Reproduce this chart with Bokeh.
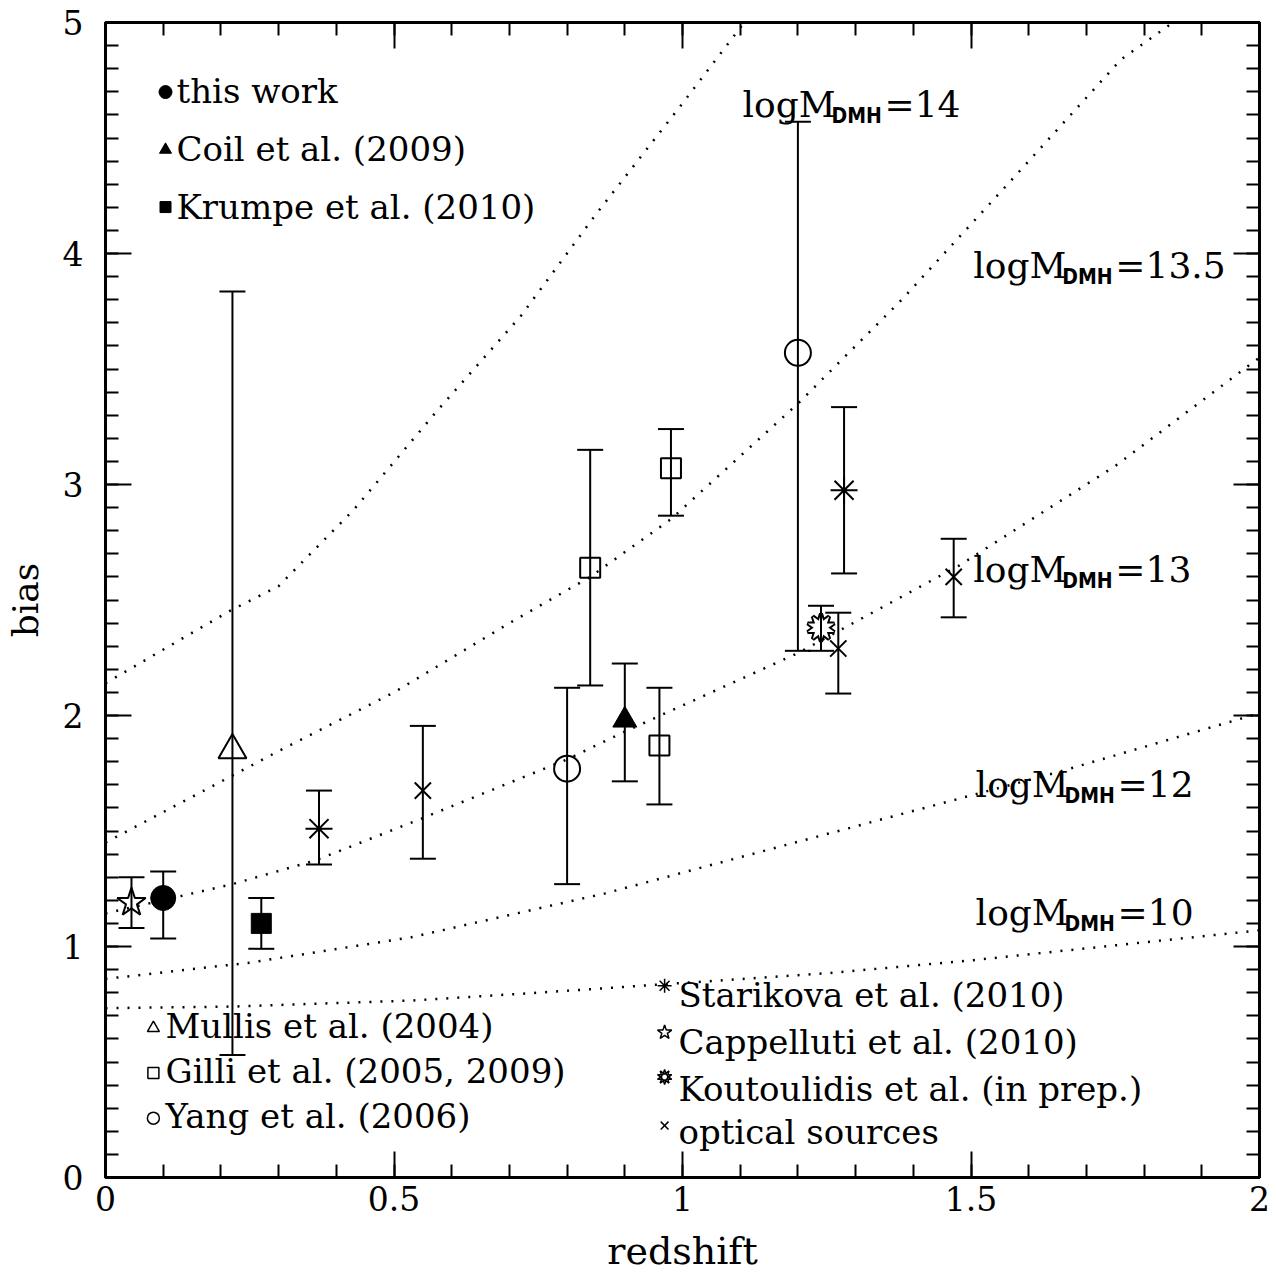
import math
from bokeh.plotting import figure
from bokeh.models import Range1d, FixedTicker, LinearAxis
from bokeh.core.properties import value
from bokeh.embed import file_html
from bokeh.resources import INLINE

FONT = "DejaVu Serif"
SERIF = value(FONT)

# ---- measurements: redshift, bias, lower / upper error ----
this_z, this_b, this_lo, this_hi = [0.10], [1.21], [1.035], [1.325]
coil_z, coil_b, coil_lo, coil_hi = [0.90], [1.98], [1.715], [2.225]
krumpe_z, krumpe_b, krumpe_lo, krumpe_hi = [0.27], [1.10], [0.99], [1.21]
mullis_z, mullis_b, mullis_lo, mullis_hi = [0.22], [1.85], [0.53], [3.835]
gilli_z = [0.84, 0.96, 0.98]
gilli_b = [2.64, 1.87, 3.07]
gilli_lo = [2.13, 1.615, 2.865]
gilli_hi = [3.15, 2.12, 3.24]
yang_z = [0.80, 1.20]
yang_b = [1.77, 3.57]
yang_lo = [1.27, 2.28]
yang_hi = [2.12, 4.57]
star_z = [0.37, 1.28]
star_b = [1.51, 2.975]
star_lo = [1.355, 2.615]
star_hi = [1.675, 3.335]
capp_z, capp_b, capp_lo, capp_hi = [0.045], [1.19], [1.08], [1.30]
kout_z, kout_b, kout_lo, kout_hi = [1.24], [2.38], [2.28], [2.475]
opt_z = [0.55, 1.27, 1.47]
opt_b = [1.675, 2.29, 2.60]
opt_lo = [1.38, 2.095, 2.425]
opt_hi = [1.955, 2.445, 2.765]

# ---- halo bias tracks for fixed dark-matter-halo mass ----
m14_z = [0.0, 0.217, 0.30, 0.43, 0.575, 0.72, 0.85, 1.0, 1.107]
m14_b = [2.14, 2.455, 2.56, 2.89, 3.32, 3.73, 4.17, 4.65, 5.0]
m135_z = [0.0, 0.22, 0.303, 0.5, 0.7, 0.84, 0.98, 1.2, 1.38, 1.56, 1.76, 1.85]
m135_b = [1.45, 1.74, 1.85, 2.10, 2.40, 2.60, 2.85, 3.35, 3.80, 4.29, 4.84, 5.0]
m13_z = [0.0, 0.22, 0.363, 0.534, 0.8, 0.9, 1.2, 1.48, 1.75, 2.0]
m13_b = [1.143, 1.27, 1.372, 1.54, 1.81, 1.93, 2.27, 2.65, 3.08, 3.55]
m12_z = [0.0, 0.25, 0.53, 0.866, 1.255, 1.644, 2.0]
m12_b = [0.86, 0.93, 1.04, 1.23, 1.49, 1.75, 2.01]
m10_z = [0.0, 0.22, 0.53, 0.75, 1.255, 1.5, 2.0]
m10_b = [0.733, 0.74, 0.766, 0.80, 0.885, 0.94, 1.07]

mass_labels = ["14", "13.5", "13", "12", "10"]
mass_label_z = [1.104, 1.504, 1.504, 1.508, 1.508]
mass_label_b = [4.645, 3.948, 2.630, 1.701, 1.147]

x_ticks = [0, 0.5, 1, 1.5, 2]
x_tick_labels = ["0", "0.5", "1", "1.5", "2"]
y_ticks = [0, 1, 2, 3, 4, 5]
y_tick_labels = ["0", "1", "2", "3", "4", "5"]

legend_top = ["this work", "Coil et al. (2009)", "Krumpe et al. (2010)"]
legend_left = ["Mullis et al. (2004)", "Gilli et al. (2005, 2009)", "Yang et al. (2006)"]
legend_right = ["Starikova et al. (2010)", "Cappelluti et al. (2010)",
                "Koutoulidis et al. (in prep.)", "optical sources"]

p = figure(width=1276, height=1275, output_backend="svg", toolbar_location=None,
           x_range=Range1d(0, 2), y_range=Range1d(0, 5),
           min_border_left=105, min_border_right=17, min_border_top=22, min_border_bottom=98,
           x_axis_label="redshift", y_axis_label="bias")
p.grid.visible = False
p.outline_line_color = "black"
p.outline_line_width = 3
p.background_fill_color = "white"
p.border_fill_color = "white"

x_minor = [round(0.1 * i, 2) for i in range(21)]
y_minor = [round(0.1 * i, 2) for i in range(51)]


def style_axis(ax, ticks, minor, labels, show_labels):
    ax.ticker = FixedTicker(ticks=ticks, minor_ticks=minor)
    ax.major_tick_in = 26
    ax.major_tick_out = 0
    ax.minor_tick_in = 13
    ax.minor_tick_out = 0
    ax.major_tick_line_width = 2
    ax.minor_tick_line_width = 2
    ax.major_tick_line_color = "black"
    ax.minor_tick_line_color = "black"
    ax.axis_line_width = 3
    ax.axis_line_color = "black"
    if show_labels:
        ax.major_label_overrides = {t: s for t, s in zip(ticks, labels)}
        ax.major_label_text_font = FONT
        ax.major_label_text_font_size = "33px"
        ax.major_label_text_color = "black"
        ax.axis_label_text_font = FONT
        ax.axis_label_text_font_size = "38px"
        ax.axis_label_text_font_style = "normal"
        ax.axis_label_text_color = "black"
    else:
        # mirrored axis: ticks only
        ax.major_label_text_font_size = "8px"
        ax.major_label_text_color = None
        ax.major_label_standoff = 0


style_axis(p.xaxis[0], x_ticks, x_minor, x_tick_labels, True)
style_axis(p.yaxis[0], y_ticks, y_minor, y_tick_labels, True)
p.xaxis[0].major_label_standoff = 8
p.xaxis[0].axis_label_standoff = 15
p.yaxis[0].major_label_standoff = 22
p.yaxis[0].axis_label_standoff = 14
p.yaxis[0].axis_label_text_font_size = "36px"

top_axis = LinearAxis()
style_axis(top_axis, x_ticks, x_minor, x_tick_labels, False)
p.add_layout(top_axis, "above")
right_axis = LinearAxis()
style_axis(right_axis, y_ticks, y_minor, y_tick_labels, False)
p.add_layout(right_axis, "right")

LW = 2

# Koutoulidis starburst: thick outline of two overlaid stars, then white interiors
for ang in (0, math.pi / 5):
    p.scatter(kout_z, kout_b, marker="star", size=28, angle=ang,
              fill_color=None, line_color="black", line_width=4)
for ang in (0, math.pi / 5):
    p.scatter(kout_z, kout_b, marker="star", size=28, angle=ang,
              fill_color="white", line_color=None)

# dotted halo-mass tracks
for zs, bs in [(m14_z, m14_b), (m135_z, m135_b), (m13_z, m13_b), (m12_z, m12_b), (m10_z, m10_b)]:
    p.line(zs, bs, line_color="black", line_width=2.5, line_dash="2 9")


def error_bars(z, lo, hi, cap=26):
    p.segment(x0=z, y0=lo, x1=z, y1=hi, line_color="black", line_width=LW)
    p.scatter(x=z + z, y=lo + hi, marker="dash", size=cap, line_color="black", line_width=LW)


for z, lo, hi in [(capp_z, capp_lo, capp_hi), (this_z, this_lo, this_hi),
                  (mullis_z, mullis_lo, mullis_hi), (krumpe_z, krumpe_lo, krumpe_hi),
                  (star_z, star_lo, star_hi), (opt_z, opt_lo, opt_hi),
                  (yang_z, yang_lo, yang_hi), (gilli_z, gilli_lo, gilli_hi),
                  (coil_z, coil_lo, coil_hi), (kout_z, kout_lo, kout_hi)]:
    error_bars(z, lo, hi)

# open symbols
p.scatter(capp_z, capp_b, marker="star", size=30, fill_color=None, line_color="black", line_width=LW)
p.scatter(mullis_z, mullis_b, marker="triangle", size=28, fill_color=None, line_color="black", line_width=LW)
p.scatter(gilli_z, gilli_b, marker="square", size=20, fill_color=None, line_color="black", line_width=LW)
p.scatter(yang_z, yang_b, marker="circle", size=26, fill_color=None, line_color="black", line_width=LW)
p.scatter(star_z, star_b, marker="asterisk", size=27, line_color="black", line_width=LW)
p.scatter(opt_z, opt_b, marker="x", size=23, line_color="black", line_width=LW)
# filled symbols
p.scatter(this_z, this_b, marker="circle", size=25, fill_color="black", line_color="black")
p.scatter(coil_z, coil_b, marker="triangle", size=24, fill_color="black", line_color="black")
p.scatter(krumpe_z, krumpe_b, marker="square", size=20, fill_color="black", line_color="black")

# halo-mass labels: "logM" + subscript "DMH" + "=value"
p.text(mass_label_z, mass_label_b, text=["logM"] * 5, text_font=SERIF,
       text_font_size="36px", text_color="black", text_baseline="alphabetic")
p.text(mass_label_z, mass_label_b, text=["DMH"] * 5, text_font=value("DejaVu Sans Condensed"),
       text_font_style="bold", text_font_size="21px", text_color="black",
       text_baseline="alphabetic", x_offset=89, y_offset=11)
p.text(mass_label_z, mass_label_b, text=["=" + m for m in mass_labels], text_font=SERIF,
       text_font_size="36px", text_color="black", text_baseline="alphabetic", x_offset=142)

# in-plot key, upper left
top_y = [4.704, 4.453, 4.203]
p.text([0.123] * 3, top_y, text=legend_top, text_font=SERIF, text_font_size="34px",
       text_color="black", text_baseline="alphabetic")
p.scatter([0.104], [4.699], marker="circle", size=13, fill_color="black", line_color="black")
p.scatter([0.104], [4.449], marker="triangle", size=12, fill_color="black", line_color="black")
p.scatter([0.104], [4.201], marker="square", size=11, fill_color="black", line_color="black")

# in-plot key, lower left
left_y = [0.658, 0.463, 0.268]
p.text([0.104] * 3, left_y, text=legend_left, text_font=SERIF, text_font_size="34px",
       text_color="black", text_baseline="alphabetic")
p.scatter([0.083], [0.647], marker="triangle", size=12, fill_color=None, line_color="black", line_width=1.5)
p.scatter([0.083], [0.452], marker="square", size=11, fill_color=None, line_color="black", line_width=1.5)
p.scatter([0.083], [0.257], marker="circle", size=12, fill_color=None, line_color="black", line_width=1.5)

# in-plot key, lower right
right_y = [0.788, 0.586, 0.385, 0.196]
p.text([0.993] * 4, right_y, text=legend_right, text_font=SERIF, text_font_size="34px",
       text_color="black", text_baseline="alphabetic")
p.scatter([0.969], [0.83], marker="asterisk", size=14, line_color="black", line_width=1.5)
p.scatter([0.969], [0.628], marker="star", size=15, fill_color=None, line_color="black", line_width=1.5)
for ang in (0, math.pi / 5):
    p.scatter([0.969], [0.435], marker="star", size=15, angle=ang, fill_color=None,
              line_color="black", line_width=1.5)
p.scatter([0.969], [0.225], marker="x", size=11, line_color="black", line_width=1.5)

open("out.html", "w").write(file_html(p, INLINE))
